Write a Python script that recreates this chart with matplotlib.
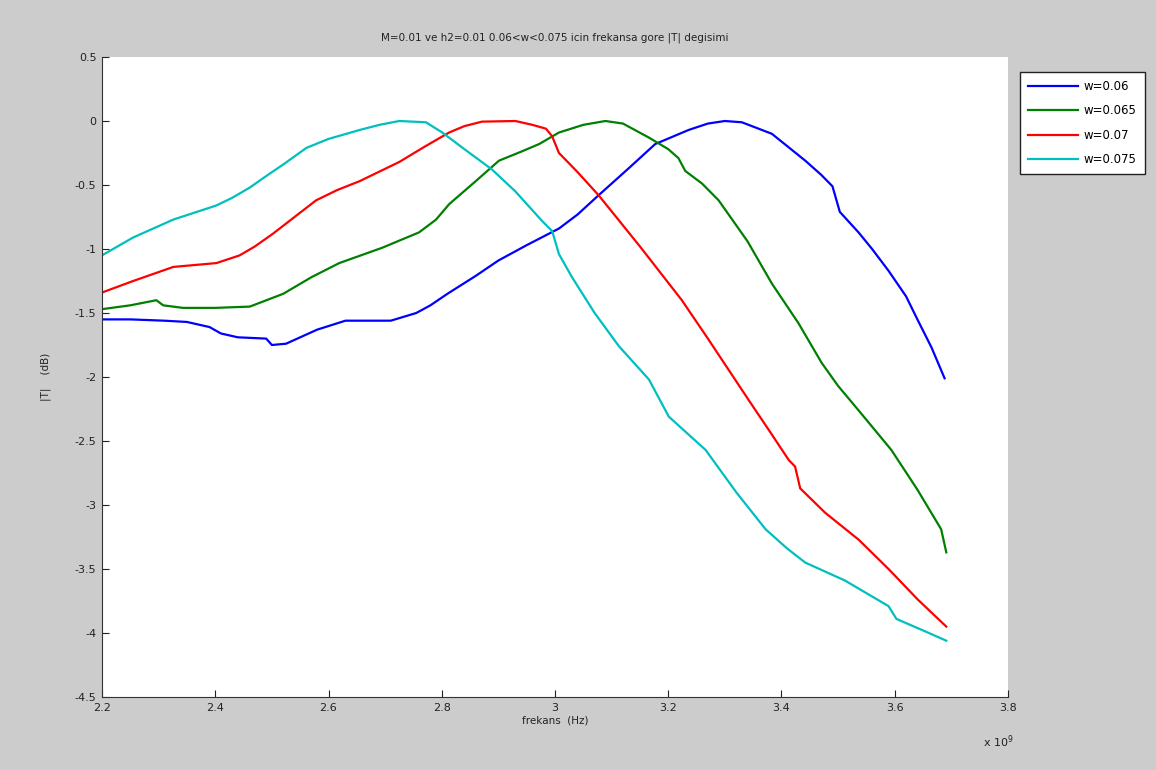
import matplotlib
matplotlib.use("Agg")
import matplotlib.pyplot as plt

title = "M=0.01 ve h2=0.01 0.06<w<0.075 icin frekansa gore |T| degisimi"
xlabel = "frekans  (Hz)"
ylabel = "|T|    (dB)"
labels = ["w=0.06", "w=0.065", "w=0.07", "w=0.075"]
colors = ["#0000ff", "#008000", "#ff0000", "#00bfbf"]

# frequency in units of 1e9 Hz
x_w060 = [2.20, 2.25, 2.31, 2.35, 2.39, 2.41, 2.44, 2.49, 2.50, 2.525, 2.55, 2.58, 2.63, 2.71, 2.755,
          2.78, 2.81, 2.86, 2.90, 2.95, 3.007, 3.04, 3.077, 3.13, 3.177, 3.236, 3.27, 3.30, 3.33, 3.383,
          3.442, 3.47, 3.49, 3.503, 3.536, 3.56, 3.589, 3.62, 3.64, 3.665, 3.688]
y_w060 = [-1.55, -1.55, -1.56, -1.57, -1.61, -1.66, -1.69, -1.70, -1.75, -1.74, -1.69, -1.63, -1.56, -1.56, -1.50,
          -1.44, -1.35, -1.21, -1.09, -0.97, -0.84, -0.73, -0.58, -0.37, -0.18, -0.07, -0.02, 0.0, -0.01, -0.10,
          -0.31, -0.42, -0.51, -0.71, -0.87, -1.00, -1.17, -1.37, -1.55, -1.77, -2.01]

x_w065 = [2.20, 2.25, 2.296, 2.308, 2.343, 2.40, 2.461, 2.52, 2.57, 2.619, 2.695, 2.76, 2.79, 2.813,
          2.86, 2.901, 2.94, 2.972, 3.007, 3.05, 3.089, 3.12, 3.166, 3.2, 3.218, 3.23, 3.26, 3.289,
          3.34, 3.383, 3.43, 3.471, 3.50, 3.536, 3.594, 3.64, 3.682, 3.691]
y_w065 = [-1.47, -1.44, -1.40, -1.44, -1.46, -1.46, -1.45, -1.35, -1.22, -1.11, -0.99, -0.87, -0.77, -0.65,
          -0.47, -0.31, -0.24, -0.18, -0.09, -0.03, 0.0, -0.02, -0.13, -0.22, -0.29, -0.39, -0.49, -0.62,
          -0.94, -1.27, -1.58, -1.89, -2.07, -2.26, -2.57, -2.88, -3.19, -3.37]

x_w070 = [2.20, 2.255, 2.326, 2.402, 2.443, 2.47, 2.502, 2.54, 2.578, 2.615, 2.655, 2.725, 2.77, 2.813,
          2.84, 2.871, 2.93, 2.96, 2.984, 2.995, 3.007, 3.04, 3.077, 3.15, 3.224, 3.27, 3.318, 3.342,
          3.38, 3.413, 3.424, 3.433, 3.477, 3.536, 3.589, 3.641, 3.691]
y_w070 = [-1.34, -1.25, -1.14, -1.11, -1.05, -0.98, -0.88, -0.75, -0.62, -0.54, -0.47, -0.32, -0.20, -0.09,
          -0.04, -0.005, 0.0, -0.03, -0.06, -0.12, -0.25, -0.40, -0.58, -0.98, -1.40, -1.70, -2.02, -2.18,
          -2.43, -2.65, -2.70, -2.87, -3.06, -3.27, -3.50, -3.74, -3.95]

x_w075 = [2.20, 2.255, 2.326, 2.402, 2.43, 2.461, 2.49, 2.52, 2.561, 2.60, 2.655, 2.69, 2.725, 2.772,
          2.801, 2.84, 2.889, 2.93, 2.977, 2.995, 3.007, 3.03, 3.07, 3.113, 3.166, 3.201, 3.266, 3.32,
          3.372, 3.41, 3.442, 3.512, 3.589, 3.603, 3.65, 3.691]
y_w075 = [-1.05, -0.91, -0.77, -0.66, -0.60, -0.52, -0.43, -0.34, -0.21, -0.14, -0.07, -0.03, 0.0, -0.01,
          -0.09, -0.22, -0.38, -0.55, -0.78, -0.86, -1.04, -1.22, -1.50, -1.76, -2.02, -2.31, -2.57, -2.90,
          -3.19, -3.34, -3.45, -3.59, -3.79, -3.89, -3.98, -4.06]

xticks = [2.2, 2.4, 2.6, 2.8, 3.0, 3.2, 3.4, 3.6, 3.8]
xticklabels = ["2.2", "2.4", "2.6", "2.8", "3", "3.2", "3.4", "3.6", "3.8"]
yticks = [0.5, 0, -0.5, -1, -1.5, -2, -2.5, -3, -3.5, -4, -4.5]
yticklabels = ["0.5", "0", "-0.5", "-1", "-1.5", "-2", "-2.5", "-3", "-3.5", "-4", "-4.5"]

plt.rcParams['font.family'] = ['DejaVu Sans']
fig = plt.figure(figsize=(11.56, 7.70), dpi=100, facecolor="#cccccc")
ax = fig.add_axes([102/1156, 1-697/770, (1008-102)/1156, (697-57)/770])
ax.set_facecolor("white")

series = [(x_w060, y_w060), (x_w065, y_w065), (x_w070, y_w070), (x_w075, y_w075)]
for (xs, ys), lab, c in zip(series, labels, colors):
    ax.plot(xs, ys, color=c, lw=1.6, label=lab)

ax.set_xlim(2.2, 3.8)
ax.set_ylim(-4.5, 0.5)
ax.set_xticks(xticks)
ax.set_xticklabels(xticklabels)
ax.set_yticks(yticks)
ax.set_yticklabels(yticklabels)
ax.tick_params(direction="in", length=5, labelsize=8, colors="#222222", pad=4)
for s in ["top", "right"]:
    ax.spines[s].set_visible(False)
for s in ["left", "bottom"]:
    ax.spines[s].set_color("#333333")

ax.set_title(title, fontsize=7.5, color="#222222", pad=12)
ax.set_xlabel(xlabel, fontsize=7.5, color="#222222", labelpad=2)
ax.set_ylabel(ylabel, fontsize=7.5, color="#222222", labelpad=17)
fig.text(983/1156, 1-742/770, r"x 10$^{9}$", fontsize=8, color="#222222", va="center", ha="left")

leg = fig.legend(loc="upper left", bbox_to_anchor=(1020/1156, 1-72/770), fontsize=8.5,
                 frameon=True, fancybox=False, edgecolor="#222222", facecolor="white",
                 framealpha=1.0, handlelength=4.2,
                 borderpad=0.7, labelspacing=0.95, handletextpad=0.5, borderaxespad=0)
leg.get_frame().set_linewidth(1.0)

fig.savefig("out.png", dpi=100, facecolor=fig.get_facecolor())
